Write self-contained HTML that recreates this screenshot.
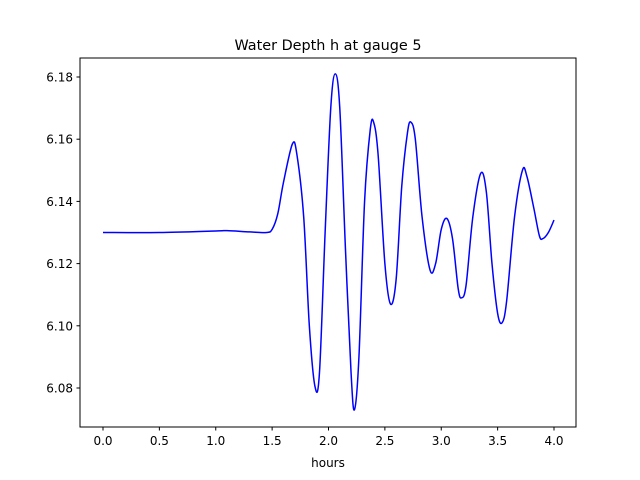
<!DOCTYPE html>
<html><head><meta charset="utf-8"><style>
body{margin:0;background:#fff;}
svg{display:block;font-family:"DejaVu Sans","Liberation Sans",sans-serif;}
</style></head><body>
<svg id="chart" width="640" height="480">
<rect width="640" height="480" fill="#fff"/>
<text x="328" y="50" font-size="14.4" text-anchor="middle">Water Depth h at gauge 5</text>
<g id="plot"></g>
<rect x="80" y="58" width="496" height="369" fill="none" stroke="#000" stroke-width="1"/>
<text x="328" y="467" font-size="12" text-anchor="middle">hours</text>
</svg>
<script>
const hours=[0,0.5,1.0,1.1,1.3,1.45,1.5,1.55,1.6,1.68,1.72,1.78,1.83,1.88,1.92,1.97,2.02,2.06,2.1,2.15,2.2,2.23,2.27,2.32,2.37,2.4,2.44,2.5,2.55,2.6,2.65,2.7,2.73,2.77,2.83,2.9,2.95,3.0,3.05,3.1,3.15,3.18,3.22,3.28,3.35,3.4,3.45,3.5,3.54,3.58,3.65,3.72,3.76,3.82,3.87,3.9,3.95,4.0];
const depth=[6.130,6.130,6.1305,6.1306,6.1302,6.130,6.131,6.136,6.146,6.1585,6.155,6.135,6.100,6.0805,6.085,6.130,6.170,6.181,6.170,6.125,6.085,6.073,6.090,6.140,6.163,6.1655,6.155,6.120,6.107,6.115,6.145,6.162,6.1655,6.160,6.135,6.118,6.120,6.131,6.1345,6.128,6.112,6.109,6.113,6.135,6.149,6.143,6.120,6.104,6.101,6.108,6.135,6.150,6.148,6.138,6.129,6.128,6.130,6.134];
const xTicks=[0,0.5,1.0,1.5,2.0,2.5,3.0,3.5,4.0];
const xTickLabels=["0.0","0.5","1.0","1.5","2.0","2.5","3.0","3.5","4.0"];
const yTicks=[6.08,6.10,6.12,6.14,6.16,6.18];
const yTickLabels=["6.08","6.10","6.12","6.14","6.16","6.18"];
const NS="http://www.w3.org/2000/svg";
const xs=v=>103+v*112.75;
const ys=v=>388-(v-6.08)*3110;
const g=document.getElementById('plot');
function mk(t,a){const e=document.createElementNS(NS,t);for(const k in a)e.setAttribute(k,a[k]);g.appendChild(e);return e;}
xTicks.forEach((t,i)=>{
 const l=mk('line',{x1:xs(t),x2:xs(t),y1:427,y2:430.5,stroke:'#000'});
 
 
 const tx=mk('text',{x:xs(t),y:445,'font-size':12,'text-anchor':'middle'});
 tx.textContent=xTickLabels[i];
 
 
});
yTicks.forEach((t,i)=>{
 const l=mk('line',{x1:76.5,x2:80,y1:ys(t),y2:ys(t),stroke:'#000'});
 
 
 const tx=mk('text',{x:73,y:ys(t)+4.5,'font-size':12,'text-anchor':'end'});
 tx.textContent=yTickLabels[i];
 
 
});
const P=hours.map((h,i)=>[xs(h),ys(depth[i])]);
let d='M'+P[0][0]+','+P[0][1];
for(let i=0;i<P.length-1;i++){
 const p0=P[Math.max(0,i-1)],p1=P[i],p2=P[i+1],p3=P[Math.min(P.length-1,i+2)];
 const c1=[p1[0]+(p2[0]-p0[0])/6,p1[1]+(p2[1]-p0[1])/6];
 const c2=[p2[0]-(p3[0]-p1[0])/6,p2[1]-(p3[1]-p1[1])/6];
 d+=`C${c1[0]},${c1[1]} ${c2[0]},${c2[1]} ${p2[0]},${p2[1]}`;
}
const line=mk('path',{d:d,fill:'none',stroke:'#0000ff','stroke-width':1.5});


</script>
</body></html>
